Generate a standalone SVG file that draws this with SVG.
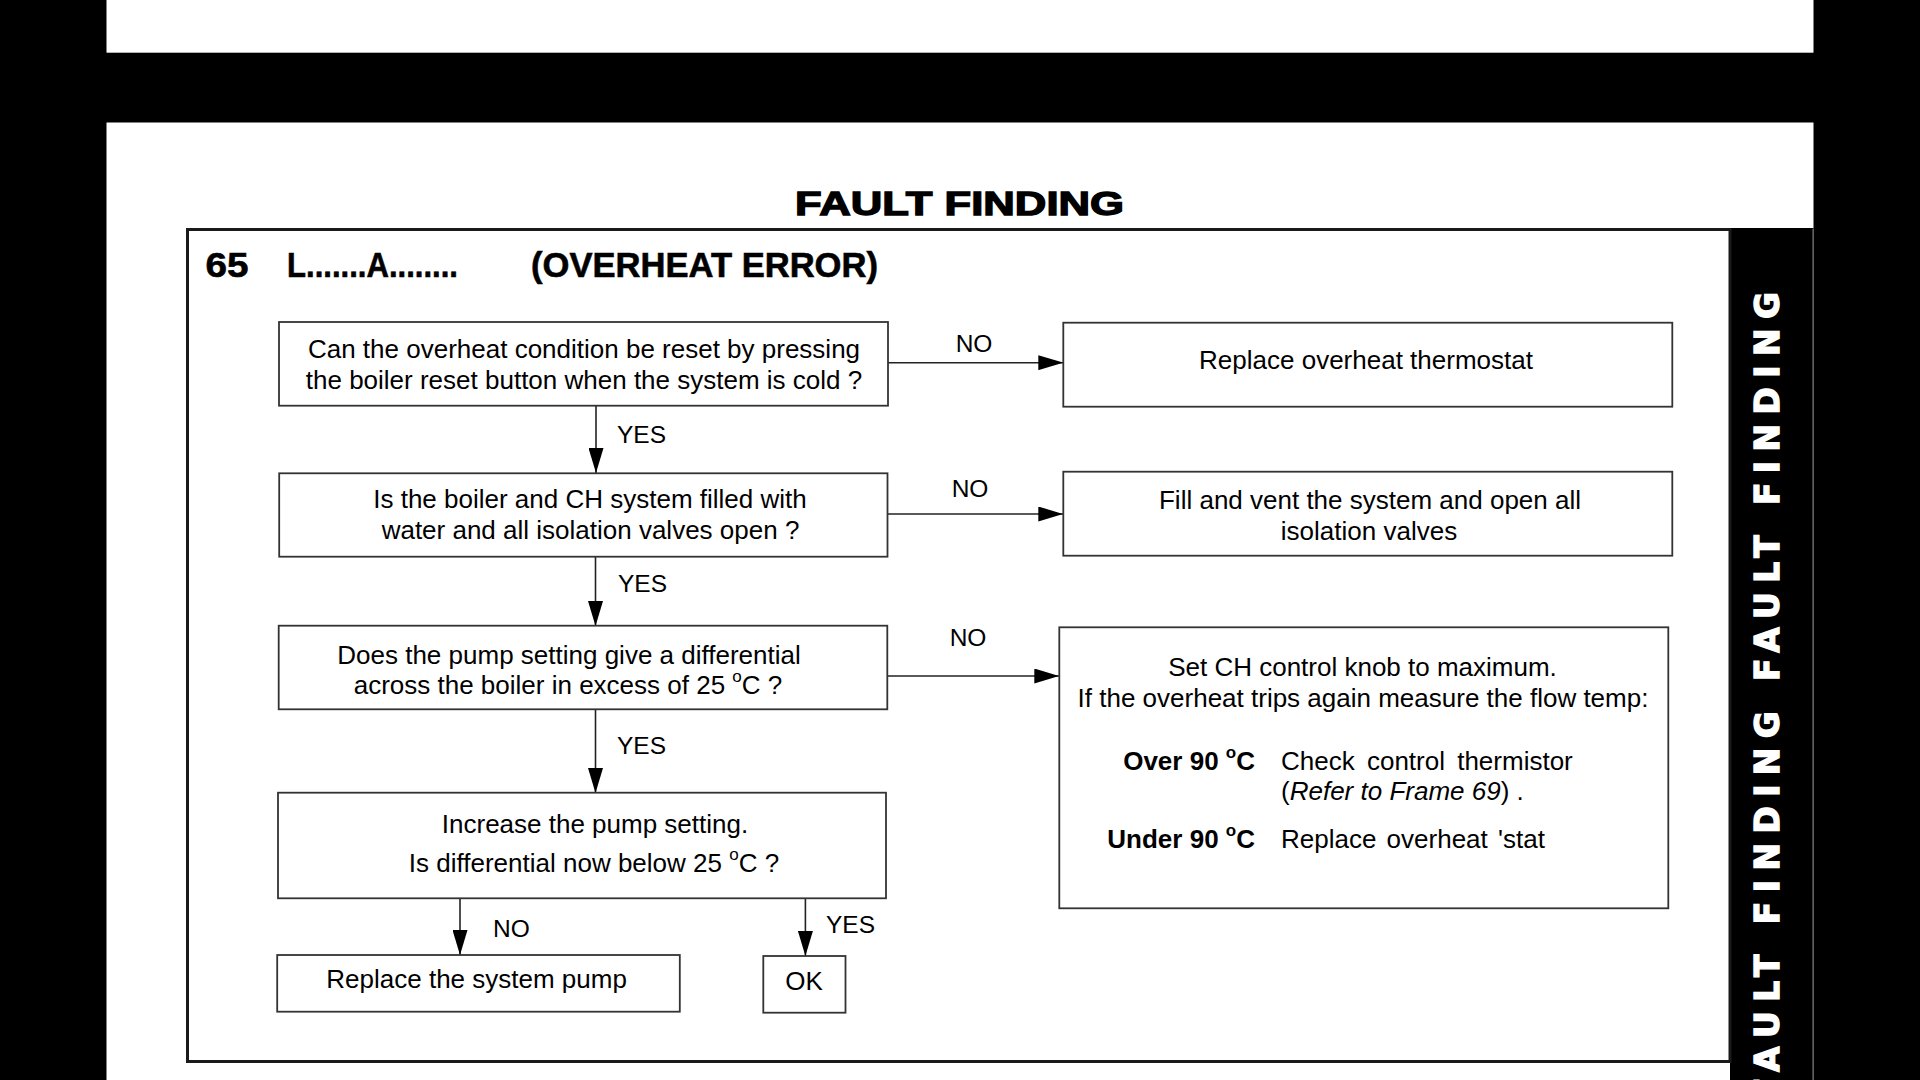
<svg xmlns="http://www.w3.org/2000/svg" width="1920" height="1080" viewBox="0 0 1920 1080">
  <style>
    .box { fill: #ffffff; stroke: #333333; stroke-width: 1.8; }
    .txt { font-family: "Liberation Sans", Arial, sans-serif; font-size: 26px; fill: #000000; }
    .mid { text-anchor: middle; }
    .end { text-anchor: end; }
    .bold { font-weight: bold; }
    .lbl { font-family: "Liberation Sans", Arial, sans-serif; font-size: 24.5px; fill: #000000; }
    .conn { fill: none; stroke: #222222; stroke-width: 1.6; marker-end: url(#arrow); }
    .sup { font-size: 17px; }
  </style>
  <defs>
    <marker id="arrow" viewBox="0 0 25 15" refX="25" refY="7.5" markerWidth="25" markerHeight="15" markerUnits="userSpaceOnUse" orient="auto">
      <path d="M0,0 L25,7.5 L0,15 z" fill="#000000"/>
    </marker>
  </defs>

  <!-- page background -->
  <g id="page">
    <rect x="0" y="0" width="1920" height="1080" fill="#000000"/>
    <rect x="106.5" y="0" width="1707" height="52.7" fill="#ffffff"/>
    <rect x="106.5" y="122.5" width="1707" height="957.5" fill="#ffffff"/>
    <rect x="1730" y="228" width="83.5" height="852" fill="#000000"/>
    <line x1="1813" y1="229" x2="1813" y2="1080" stroke="#808080" stroke-width="1"/>
    <rect x="187.5" y="229.5" width="1542.5" height="832" fill="none" stroke="#1a1a1a" stroke-width="3"/>
    <text x="795" y="215" class="txt bold" style="font-size:33px" stroke="#000000" stroke-width="1.3" textLength="329" lengthAdjust="spacingAndGlyphs">FAULT FINDING</text>
    <text transform="translate(1779,1100) rotate(-90)" font-family="'DejaVu Sans', Verdana, sans-serif" font-weight="bold" font-size="33" fill="#ffffff" stroke="#ffffff" stroke-width="1.4" textLength="808" lengthAdjust="spacing">FAULT FINDING FAULT FINDING</text>
  </g>

  <g id="frame-title">
    <text x="205.5" y="276.5" class="txt bold" style="font-size:35px" stroke="#000000" stroke-width="0.6" textLength="43" lengthAdjust="spacingAndGlyphs">65</text>
    <text x="287" y="276.5" class="txt bold" style="font-size:35px" stroke="#000000" stroke-width="0.6" textLength="171" lengthAdjust="spacingAndGlyphs">L.......A........</text>
    <text x="531" y="276.5" class="txt bold" style="font-size:35px" stroke="#000000" stroke-width="0.6" textLength="347" lengthAdjust="spacingAndGlyphs">(OVERHEAT ERROR)</text>
  </g>

  <!-- connectors -->
  <g id="connectors">
    <path class="conn" d="M888,362.7 H1063.3"/>
    <path class="conn" d="M596,405.7 V473"/>
    <path class="conn" d="M888,514 H1063.3"/>
    <path class="conn" d="M595.5,557 V626"/>
    <path class="conn" d="M888,676 H1059.3"/>
    <path class="conn" d="M595.5,709.5 V793"/>
    <path class="conn" d="M460,898.5 V955"/>
    <path class="conn" d="M805.4,898.5 V956"/>
    <text class="lbl mid" x="974" y="352">NO</text>
    <text class="lbl" x="617" y="443">YES</text>
    <text class="lbl mid" x="970" y="497">NO</text>
    <text class="lbl" x="618" y="591.7">YES</text>
    <text class="lbl mid" x="968" y="646">NO</text>
    <text class="lbl" x="617" y="754">YES</text>
    <text class="lbl" x="493" y="937">NO</text>
    <text class="lbl" x="826" y="933">YES</text>
  </g>

  <g id="q1">
    <rect class="box" x="279" y="322" width="609" height="83.7"/>
    <text class="txt mid" x="584" y="358">Can the overheat condition be reset by pressing</text>
    <text class="txt mid" x="584" y="389">the boiler reset button when the system is cold ?</text>
  </g>

  <g id="a1">
    <rect class="box" x="1063.3" y="322.7" width="609" height="84"/>
    <text class="txt mid" x="1366" y="369.3">Replace overheat thermostat</text>
  </g>

  <g id="q2">
    <rect class="box" x="279.2" y="473.3" width="608.3" height="83.4"/>
    <text class="txt mid" x="590" y="508">Is the boiler and CH system filled with</text>
    <text class="txt mid" x="590.5" y="538.5">water and all isolation valves open ?</text>
  </g>

  <g id="a2">
    <rect class="box" x="1063.3" y="471.7" width="609" height="84"/>
    <text class="txt mid" x="1370" y="509">Fill and vent the system and open all</text>
    <text class="txt mid" x="1369" y="540">isolation valves</text>
  </g>

  <g id="q3">
    <rect class="box" x="278.7" y="625.7" width="608.6" height="83.6"/>
    <text class="txt mid" x="569" y="663.5">Does the pump setting give a differential</text>
    <text class="txt mid" x="568" y="694">across the boiler in excess of 25 <tspan class="sup" dy="-12">o</tspan><tspan dy="12">C ?</tspan></text>
  </g>

  <g id="a3">
    <rect class="box" x="1059.3" y="627.3" width="609" height="281"/>
    <text class="txt mid" x="1362.5" y="676">Set CH control knob to maximum.</text>
    <text class="txt mid" x="1363" y="707.3">If the overheat trips again measure the flow temp:</text>
    <text class="txt bold end" x="1255" y="770">Over 90 <tspan class="sup" dy="-12">o</tspan><tspan dy="12">C</tspan></text>
    <text class="txt" x="1281" y="770" word-spacing="5">Check control thermistor</text>
    <text class="txt" x="1281" y="800">(<tspan font-style="italic">Refer to Frame 69</tspan>) .</text>
    <text class="txt bold end" x="1255" y="848.3">Under 90 <tspan class="sup" dy="-12">o</tspan><tspan dy="12">C</tspan></text>
    <text class="txt" x="1281" y="848.3" word-spacing="3">Replace overheat 'stat</text>
  </g>

  <g id="q4">
    <rect class="box" x="278" y="792.7" width="608" height="105.6"/>
    <text class="txt mid" x="595" y="833">Increase the pump setting.</text>
    <text class="txt mid" x="594" y="871.7">Is differential now below 25 <tspan class="sup" dy="-12">o</tspan><tspan dy="12">C ?</tspan></text>
  </g>

  <g id="a4">
    <rect class="box" x="277.2" y="955" width="402.6" height="56.7"/>
    <text class="txt mid" x="476.6" y="988.3">Replace the system pump</text>
  </g>

  <g id="ok">
    <rect class="box" x="763.3" y="956" width="82.2" height="56.7"/>
    <text class="txt mid" x="804" y="990">OK</text>
  </g>
</svg>
